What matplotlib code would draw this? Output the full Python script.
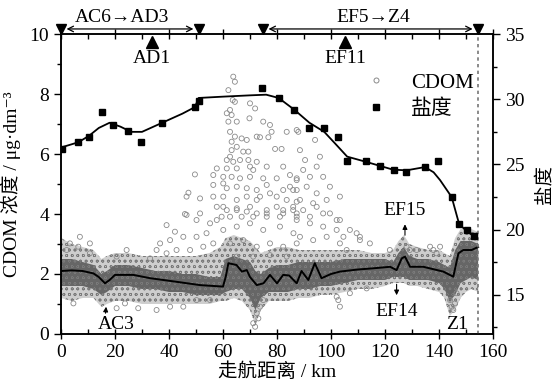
import matplotlib
matplotlib.use('Agg')
import matplotlib.pyplot as plt
from matplotlib.lines import Line2D

plt.rcParams['font.family'] = ['Liberation Serif', 'DejaVu Serif', 'Noto Sans CJK SC']
plt.rcParams['hatch.color'] = '#7a7a7a'
plt.rcParams['hatch.linewidth'] = 0.5

# salinity samples (right axis)
sal_km = [0.3, 6.4, 10.4, 15.1, 19.4, 24.7, 29.6, 37.5, 49.6, 51.1, 74.6, 80.6, 86.4,
          92.0, 97.5, 102.7, 106.0, 113.0, 118.1, 123.4, 127.7, 134.8, 139.7,
          144.7, 147.5, 150.3, 153.1]
sal_val = [26.2, 26.7, 27.1, 29.0, 28.0, 27.6, 26.7, 28.2, 29.4, 29.9, 30.9, 30.1, 29.2,
           27.8, 27.8, 27.1, 25.3, 25.3, 24.9, 24.6, 24.4, 24.8, 25.3,
           22.5, 20.4, 20.0, 19.5]

# salinity fitted line
fit_km = [0, 6.4, 10.4, 14, 18, 22, 26, 30, 37.5, 45, 49.6, 51, 60, 70, 76, 80.6, 86.4,
          92, 97.5, 102, 106, 113, 118, 123, 128, 134.8, 138, 140.4, 144.7, 147.5, 150.3, 153.1]
fit_sal = [26.3, 26.7, 27.2, 27.8, 28.2, 27.9, 27.5, 27.5, 28.2, 28.9, 29.4, 30.1, 30.2, 30.3,
           30.35, 30.1, 29.2, 28.2, 27.5, 26.5, 25.6, 25.2, 24.9, 24.6, 24.55, 24.8, 24.4,
           23.8, 22.5, 20.4, 19.9, 19.45]

# CDOM smoothed line
line_km = [0, 4, 8, 12, 14, 16.3, 18, 20, 26.8, 33, 42.8, 51.5, 60, 61, 62, 65, 67, 68.8,
           70, 72.5, 75, 77.4, 80, 82.3, 84.5, 87.3, 89.1, 91.6, 94, 96.5, 100, 103.3, 110,
           115.7, 121.9, 124.3, 126.2, 127.4, 129.3, 134.2, 141.6, 145.3, 147.2, 149, 152.1, 154.5]
line_cdom = [2.1, 2.12, 2.1, 2.02, 1.9, 1.69, 1.8, 1.97, 1.97, 1.86, 1.74, 1.63, 1.58, 1.9,
             2.36, 2.3, 2.08, 2.13, 1.9, 1.63, 1.69, 1.97, 1.69, 1.97, 1.95, 1.69, 2.1, 1.8,
             2.36, 1.86, 2.0, 2.08, 2.15, 2.19, 2.24, 2.13, 2.52, 2.58, 2.24, 2.24, 2.08, 1.91,
             2.69, 2.8, 2.8, 2.9]

# dense CDOM band envelopes
band_km = [0, 4, 8, 12, 15, 17, 20, 25, 30, 35, 40, 45, 50, 55, 59, 61, 64, 67, 70, 72, 74,
           77, 80, 84, 88, 92, 96, 100, 105, 110, 115, 120, 123, 125, 127, 129, 132, 136, 140,
           142, 144, 146, 148, 150, 152, 154.5]
outer_lo = [1.2, 1.1, 1.2, 1.2, 0.9, 1.0, 1.1, 1.1, 1.0, 1.0, 1.0, 1.0, 1.0, 1.0, 1.1, 1.1,
            1.2, 1.1, 0.8, 0.3, 0.8, 1.1, 1.1, 1.1, 1.2, 1.2, 1.3, 1.3, 1.4, 1.5, 1.5, 1.6,
            1.7, 1.7, 1.7, 1.6, 1.6, 1.5, 1.4, 1.2, 0.6, 0.8, 1.2, 1.4, 1.5, 1.4]
outer_hi = [3.2, 3.0, 2.9, 2.8, 2.5, 2.6, 2.7, 2.7, 2.6, 2.6, 2.6, 2.6, 2.6, 2.7, 2.9, 3.2,
            3.3, 3.2, 3.1, 2.9, 2.7, 2.8, 2.9, 2.9, 2.8, 2.8, 2.8, 2.8, 2.8, 2.8, 2.7, 2.7,
            2.8, 3.1, 3.3, 3.0, 2.9, 2.8, 2.8, 2.7, 2.6, 3.2, 3.5, 3.5, 3.5, 3.4]
core_lo = [1.6, 1.6, 1.6, 1.5, 1.3, 1.4, 1.6, 1.6, 1.5, 1.5, 1.4, 1.4, 1.3, 1.3, 1.3, 1.4,
           1.5, 1.5, 1.2, 0.8, 1.2, 1.4, 1.4, 1.4, 1.5, 1.5, 1.6, 1.6, 1.7, 1.8, 1.8, 1.8,
           1.9, 1.9, 1.9, 1.8, 1.8, 1.8, 1.7, 1.5, 1.1, 1.3, 1.7, 1.8, 1.9, 1.8]
core_hi = [2.5, 2.5, 2.4, 2.3, 2.0, 2.1, 2.3, 2.3, 2.2, 2.1, 2.1, 2.0, 2.0, 1.9, 1.9, 2.5,
           2.6, 2.5, 2.4, 2.1, 2.0, 2.2, 2.3, 2.3, 2.4, 2.4, 2.4, 2.4, 2.5, 2.5, 2.5, 2.5,
           2.4, 2.7, 2.9, 2.6, 2.5, 2.5, 2.4, 2.3, 2.2, 2.8, 3.1, 3.1, 3.1, 3.0]

# scattered CDOM samples outside the dense band
cloud_km = [63.8, 64.4, 62.0, 63.6, 64.4, 62.6, 70.0, 71.9, 61.4, 63.2, 65.1, 62.0, 69.8, 74.9,
            77.4, 78.0, 83.6, 87.9, 62.6, 64.4, 66.9, 68.8, 72.5, 73.7, 76.8, 79.3, 81.7, 63.2,
            65.1, 63.2, 67.5, 69.4, 62.6, 61.4, 63.8, 66.3, 69.4, 72.5, 57.7, 61.4, 65.1, 70.0,
            71.2, 76.2, 82.3, 49.6, 56.4, 60.1, 63.2, 66.3, 70.0, 74.9, 79.9, 84.8, 87.3, 47.2,
            46.5, 51.5, 56.4, 60.1, 61.4, 65.1, 68.8, 72.5, 76.2, 73.7, 77.4, 82.3, 84.8, 87.3,
            56.4, 60.1, 65.1, 68.8, 72.5, 79.9, 83.6, 87.3, 45.9, 51.5, 57.7, 61.4, 65.1, 68.8,
            72.5, 76.2, 79.9, 82.3, 86.0, 59.5, 62.6, 66.9, 71.2, 76.2, 81.1,
            87.3, 94.1, 88.5, 90.4, 95.9, 89.7, 94.7, 87.3, 92.2, 97.1, 86.0, 91.0, 94.7, 99.6,
            88.5, 93.4, 98.4, 103.3, 87.3, 92.2, 97.1, 102.1, 107.0, 110.7, 104.6,
            46.5, 39.1, 42.2, 50.2, 55.2, 36.7, 40.4, 45.3, 50.2, 53.9, 35.4, 39.1, 42.8, 47.8,
            52.7, 56.4, 57.7, 60.1, 65.1, 70.0, 76.2, 82.3, 87.3, 60.1, 65.1, 70.0, 74.9, 81.1,
            86.1, 62.6, 67.5, 72.5, 77.4, 82.3, 87.3, 65.1, 71.2, 77.4, 83.6, 3.3, 7.0, 10.7,
            2.1, 6.4, 24.3, 20.6, 33.0, 10.7,
            4.6, 20.6, 28.6, 35.4, 40.4, 45.3, 50.2, 55.2, 71.2, 71.9, 72.5, 73.1, 73.7, 74.9, 23.7,
            86.0, 89.7, 94.7, 99.6, 103.3, 87.3, 92.2, 97.1, 102.1, 88.5, 93.4, 98.4, 103.3, 109.5,
            110.7, 105.8, 114.4, 137.9, 139.1, 121.8, 128.0, 129.2, 131.7, 136.7, 140.4,
            102.1, 102.7, 103.3, 107.0, 113.2, 144.1, 144.7, 145.3, 145.9, 146.5]
cloud_cdom = [8.58, 8.41, 8.13, 7.80, 7.74, 7.47, 7.69, 7.52, 7.36, 7.30, 7.08, 7.08, 7.19, 7.08,
              6.97, 6.74, 6.74, 6.74, 6.74, 6.58, 6.52, 6.47, 6.58, 6.56, 6.56, 6.17, 6.17, 6.41,
              6.24, 6.13, 6.08, 6.08, 5.91, 5.80, 5.74, 5.80, 5.80, 5.74, 5.52, 5.52, 5.52, 5.58,
              5.47, 5.58, 5.58, 5.32, 5.30, 5.24, 5.24, 5.19, 5.24, 5.19, 5.19, 5.30, 5.19, 4.71,
              4.58, 4.52, 4.97, 5.02, 4.86, 4.91, 4.86, 4.80, 4.97, 4.58, 4.69, 4.80, 4.91, 4.80,
              4.58, 4.58, 4.47, 4.58, 4.47, 4.58, 4.47, 4.41, 4.00, 4.02, 4.24, 4.13, 4.19, 4.08,
              4.02, 4.13, 4.24, 4.02, 4.13, 3.91, 3.91, 3.91, 3.91, 3.91, 3.91,
              6.80, 6.47, 6.13, 5.80, 5.91, 5.47, 5.58, 5.13, 5.24, 5.24, 4.80, 4.91, 4.69, 4.91,
              4.47, 4.36, 4.47, 4.58, 4.02, 3.91, 4.02, 3.80, 3.47, 3.24, 3.24,
              3.97, 3.63, 3.41, 3.80, 3.69, 3.02, 3.13, 3.24, 3.24, 3.36, 2.80, 2.69, 2.80, 2.80,
              2.91, 3.02, 3.80, 4.24, 4.13, 4.24, 4.02, 4.13, 3.91, 3.47, 3.58, 3.69, 3.47, 3.58,
              3.36, 3.02, 3.13, 2.91, 3.02, 2.91, 3.02, 2.58, 2.58, 2.63, 2.58, 3.02, 3.24, 3.02,
              2.80, 2.91, 2.80, 2.58, 2.52, 2.69,
              1.02, 0.86, 0.86, 0.80, 0.91, 0.91, 1.13, 1.13, 0.36, 0.24, 0.69, 0.52, 0.91, 1.13, 1.02,
              4.24, 4.13, 4.24, 4.02, 3.80, 3.80, 3.69, 3.58, 3.47, 3.24, 3.13, 3.24, 3.02, 3.36,
              3.13, 2.80, 3.02, 2.80, 2.69, 2.80, 2.91, 2.80, 2.80, 2.91, 2.91,
              1.24, 1.13, 0.91, 1.36, 1.52, 1.13, 0.91, 0.80, 1.02, 1.36]

route_km = [0, 51.1, 74.8, 154.5]
station_km = [33.6, 105.2]
station_names = ['AD1', 'EF11']
end_km = 154.5

fig = plt.figure(figsize=(5.52, 3.87), dpi=100)
ax = fig.add_axes([0.1105, 0.137, 0.7826, 0.775])
ax2 = ax.twinx()

gray = '#8a8a8a'
ax.fill_between(band_km, outer_lo, outer_hi, facecolor='#c6c6c6', edgecolor='none',
                hatch='ooo', alpha=0.85, zorder=1)
ax.fill_between(band_km, core_lo, core_hi, facecolor='#3a3a3a', edgecolor='none',
                hatch='ooo', alpha=0.7, zorder=2)
ax.scatter(cloud_km, cloud_cdom, s=13, facecolors='none', edgecolors=gray,
           linewidths=0.6, zorder=2)
ax.plot(line_km, line_cdom, color='black', lw=1.4, zorder=3)

ax.axvline(end_km, color='#777777', lw=1.2, ls=(0, (2, 2)), zorder=4)

sq, = ax2.plot(sal_km, sal_val, 's', color='black', ms=4.8, zorder=5)
ax2.plot(fit_km, fit_sal, color='black', lw=1.3, zorder=4)

ax.set_xlim(0, 160)
ax.set_ylim(0, 10)
ax2.set_ylim(12, 35)
ax.set_xticks(range(0, 161, 20))
ax.set_xticks(range(10, 160, 20), minor=True)
ax.set_yticks(range(0, 11, 2))
ax.set_yticks(range(1, 10, 2), minor=True)
ax2.set_yticks([15, 20, 25, 30, 35])
ax2.set_yticks([12.5, 17.5, 22.5, 27.5, 32.5], minor=True)

ax.tick_params(axis='x', which='major', direction='inout', length=7, width=1, top=True,
               labelsize=14)
ax.tick_params(axis='x', which='minor', direction='in', length=3.5, width=1, top=True)
ax.tick_params(axis='y', which='major', direction='out', length=5, width=1, labelsize=14)
ax.tick_params(axis='y', which='minor', direction='out', length=3, width=1)
ax2.tick_params(axis='y', which='major', direction='out', length=5, width=1, labelsize=14)
ax2.tick_params(axis='y', which='minor', direction='out', length=3, width=1)
for a in (ax, ax2):
    for sp in a.spines.values():
        sp.set_linewidth(1.1)

ax.set_xlabel('走航距离 / km', fontsize=14, labelpad=1)
ax.set_ylabel('CDOM 浓度 / μg·dm⁻³', fontsize=14, labelpad=6)
ax2.set_ylabel('盐度', fontsize=14, labelpad=8)

# route markers above the axes
ax.plot(route_km, [10.17] * len(route_km), 'v', color='black', ms=7, clip_on=False, zorder=6)
ax.annotate('', xy=(route_km[0], 10.17), xytext=(route_km[1], 10.17),
            arrowprops=dict(arrowstyle='<->', lw=0.9, color='black',
                            shrinkA=4, shrinkB=4), annotation_clip=False)
ax.annotate('', xy=(route_km[2], 10.17), xytext=(route_km[3], 10.17),
            arrowprops=dict(arrowstyle='<->', lw=0.9, color='black',
                            shrinkA=4, shrinkB=4), annotation_clip=False)
ax.text(22.5, 10.55, 'AC6→AD3', ha='center', va='center', fontsize=14)
ax.text(115.5, 10.55, 'EF5→Z4', ha='center', va='center', fontsize=14)

ax.plot(station_km, [9.75] * len(station_km), '^', color='black', ms=8, zorder=6)
for km, name in zip(station_km, station_names):
    ax.text(km, 9.2, name, ha='center', va='center', fontsize=14)

# point annotations
ax.annotate('', xy=(16.8, 1.0), xytext=(16.4, 0.6),
            arrowprops=dict(arrowstyle='-|>', lw=0.8, color='black', mutation_scale=7))
ax.text(20.5, 0.3, 'AC3', ha='center', va='center', fontsize=14)
ax.annotate('', xy=(127.4, 3.75), xytext=(127.4, 3.2),
            arrowprops=dict(arrowstyle='-|>', lw=0.8, color='black', mutation_scale=7))
ax.text(127.4, 4.13, 'EF15', ha='center', va='center', fontsize=14)
ax.annotate('', xy=(124.3, 1.2), xytext=(124.3, 1.75),
            arrowprops=dict(arrowstyle='-|>', lw=0.8, color='black', mutation_scale=7))
ax.text(124.3, 0.74, 'EF14', ha='center', va='center', fontsize=14)
ax.text(146.5, 0.3, 'Z1', ha='center', va='center', fontsize=14)

h1 = Line2D([], [], ls='none', marker='o', mfc='none', mec=gray, ms=3.6, mew=0.7)
ax2.legend([h1, sq], ['CDOM', '盐度'], loc='upper left', bbox_to_anchor=(0.68, 0.905),
           frameon=False, fontsize=15, handlelength=1, handletextpad=1.2,
           labelspacing=0.35, borderpad=0)

fig.savefig('out.png', dpi=100)
